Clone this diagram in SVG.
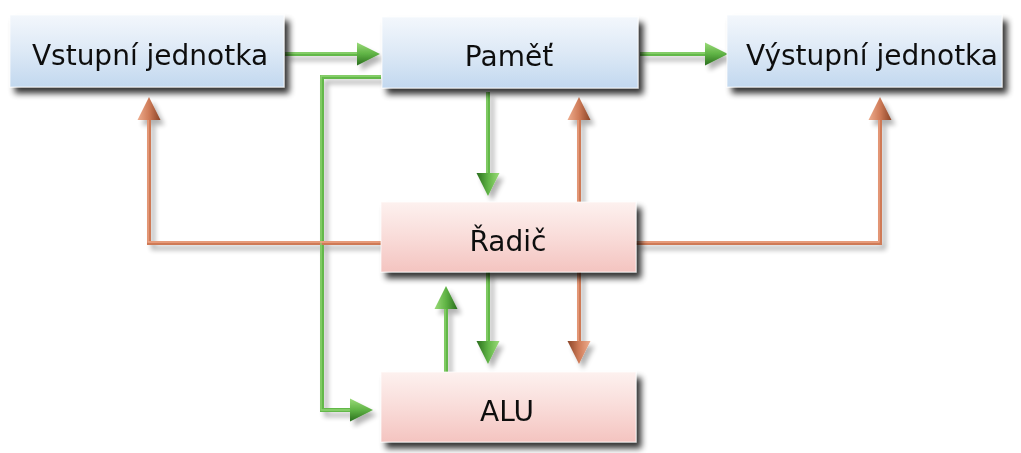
<svg xmlns="http://www.w3.org/2000/svg" width="1021" height="453" viewBox="0 0 1021 453">
<defs>
<linearGradient id="gBlue" x1="0" y1="0" x2="0" y2="1">
<stop offset="0" stop-color="#f3f7fc"/>
<stop offset="0.5" stop-color="#dde9f6"/>
<stop offset="1" stop-color="#c2d8ef"/>
</linearGradient>
<linearGradient id="gPink" x1="0" y1="0" x2="0" y2="1">
<stop offset="0" stop-color="#fdf1ef"/>
<stop offset="0.5" stop-color="#f9dcd9"/>
<stop offset="1" stop-color="#f4c4c0"/>
</linearGradient>
<linearGradient id="gArrG" x1="0" y1="0" x2="0" y2="1">
<stop offset="0" stop-color="#9ada78"/>
<stop offset="0.5" stop-color="#5fb345"/>
<stop offset="1" stop-color="#2a6e1e"/>
</linearGradient>
<linearGradient id="gArrB" x1="0" y1="0" x2="0" y2="1">
<stop offset="0" stop-color="#eeae90"/>
<stop offset="0.5" stop-color="#cf7b58"/>
<stop offset="1" stop-color="#8a4527"/>
</linearGradient>
<filter id="shBox" x="-10%" y="-20%" width="130%" height="160%">
<feGaussianBlur in="SourceAlpha" stdDeviation="3"/>
<feOffset dx="5" dy="6" result="b"/>
<feComponentTransfer><feFuncA type="linear" slope="0.8"/></feComponentTransfer>
<feMerge><feMergeNode/><feMergeNode in="SourceGraphic"/></feMerge>
</filter>
<filter id="shLine" x="-20%" y="-20%" width="140%" height="140%">
<feGaussianBlur in="SourceAlpha" stdDeviation="2.5"/>
<feOffset dx="4" dy="5" result="b"/>
<feComponentTransfer><feFuncA type="linear" slope="0.3"/></feComponentTransfer>
<feMerge><feMergeNode/><feMergeNode in="SourceGraphic"/></feMerge>
</filter>
<polygon id="ahG" points="-23,-11.5 0,0 -23,11.5" fill="url(#gArrG)"/>
<polygon id="ahB" points="-23,-11.5 0,0 -23,11.5" fill="url(#gArrB)"/>
</defs>
<style>
.lg{fill:none;stroke:#64b84a;stroke-width:4;stroke-linejoin:miter}
.lgh{fill:none;stroke:#8fd472;stroke-width:1.3}
.lb{fill:none;stroke:#cf7a56;stroke-width:4;stroke-linejoin:miter}
.lbh{fill:none;stroke:#eea687;stroke-width:1.3}
.box{stroke:#ffffff;stroke-opacity:0.7;stroke-width:1}
.t{font-family:"DejaVu Sans","Verdana",sans-serif;font-size:28px;fill:#111;text-anchor:middle}
</style>
<rect width="1021" height="453" fill="#ffffff"/>
<g id="connectors" filter="url(#shLine)">
<path class="lg" d="M285,54 H359"/>
<path class="lg" d="M640,54 H707"/>
<path class="lg" d="M381,77 H322 V410 H352"/>
<path class="lg" d="M488,92 V175"/>
<path class="lg" d="M488,272 V343"/>
<path class="lg" d="M446,372 V306"/>
<path class="lb" d="M579,202 V118"/>
<path class="lb" d="M381,243 H149 V118"/>
<path class="lb" d="M636,243 H880 V118"/>
<path class="lb" d="M579,272 V343"/>
<path class="lgh" d="M285,53 H359"/>
<path class="lgh" d="M640,53 H707"/>
<path class="lgh" d="M381,76 H321 V410 H352"/>
<path class="lgh" d="M487,92 V175"/>
<path class="lgh" d="M487,272 V343"/>
<path class="lgh" d="M445,372 V306"/>
<path class="lbh" d="M578,202 V118"/>
<path class="lbh" d="M381,242 H148 V118"/>
<path class="lbh" d="M636,242 H879 V118"/>
<path class="lbh" d="M578,272 V343"/>
<use href="#ahG" transform="translate(380,54)"/>
<use href="#ahG" transform="translate(728,54)"/>
<use href="#ahG" transform="translate(373,410)"/>
<use href="#ahG" transform="translate(488,196) rotate(90)"/>
<use href="#ahG" transform="translate(488,364) rotate(90)"/>
<use href="#ahG" transform="translate(446,286) rotate(-90)"/>
<use href="#ahB" transform="translate(579,97) rotate(-90)"/>
<use href="#ahB" transform="translate(149,97) rotate(-90)"/>
<use href="#ahB" transform="translate(880,97) rotate(-90)"/>
<use href="#ahB" transform="translate(579,364) rotate(90)"/>
</g>
<g id="vstupni" filter="url(#shBox)">
<rect class="box" x="10" y="15" width="274" height="72" fill="url(#gBlue)"/>
<text class="t" x="150" y="65">Vstupní jednotka</text>
</g>
<g id="pamet" filter="url(#shBox)">
<rect class="box" x="382" y="17" width="256" height="71" fill="url(#gBlue)"/>
<text class="t" x="509" y="66">Paměť</text>
</g>
<g id="vystupni" filter="url(#shBox)">
<rect class="box" x="727" y="15" width="275" height="72" fill="url(#gBlue)"/>
<text class="t" x="872" y="65">Výstupní jednotka</text>
</g>
<g id="radic" filter="url(#shBox)">
<rect class="box" x="381" y="202" width="255" height="70" fill="url(#gPink)"/>
<text class="t" x="508" y="251">Řadič</text>
</g>
<g id="alu" filter="url(#shBox)">
<rect class="box" x="381" y="372" width="255" height="70" fill="url(#gPink)"/>
<text class="t" x="507" y="421">ALU</text>
</g>
</svg>
